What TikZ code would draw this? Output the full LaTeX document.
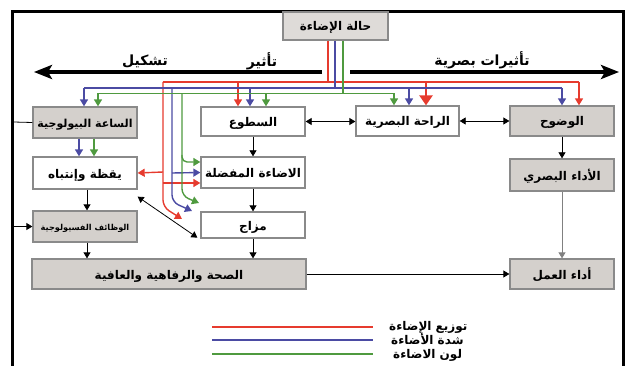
\documentclass[tikz,border=0pt]{standalone}
\usepackage{fontspec}
\TeXXeTstate=1
\newfontfamily\arfont[Script=Arabic]{DejaVu Sans}
\usetikzlibrary{arrows.meta,calc}
\definecolor{lred}{HTML}{E63B2E}
\definecolor{lblue}{HTML}{4B4BA3}
\definecolor{lgreen}{HTML}{4F9A3F}
\definecolor{boxfill}{HTML}{D4D0CC}
\definecolor{topfill}{HTML}{DEDBD8}
\definecolor{boxline}{HTML}{8A8A8A}
\begin{document}
\begin{tikzpicture}[x=1pt,y=-1pt,
  box/.style={draw=boxline, line width=1.3pt, fill=white, inner sep=0pt,
    text height=10pt, text depth=0pt,
    font=\arfont\bfseries\fontsize{12}{13}\selectfont},
  graybox/.style={box, fill=boxfill},
  conn/.style={line width=0.8pt, -{Triangle[width=7pt,length=6pt]}},
  dconn/.style={line width=0.8pt, {Triangle[width=7pt,length=6pt]}-{Triangle[width=7pt,length=6pt]}},
  wire/.style={line width=1.4pt},
  cwire/.style={line width=1.4pt, -{Triangle[width=8pt,length=7pt]}},
  bigarrow/.style={line width=3.5pt, -{Stealth[length=18pt,width=14pt,inset=4pt]}},
  lbl/.style={font=\arfont\bfseries\fontsize{14}{16}\selectfont, inner sep=0pt},
  leg/.style={font=\arfont\bfseries\fontsize{12}{12}\selectfont, inner sep=0pt}
]
\useasboundingbox (0,0) rectangle (636,366);
% frame
\draw[line width=2.5pt] (12.5,366) -- (12.5,11.5) -- (623.5,11.5) -- (623.5,366);

% nodes
\node[box, fill=topfill, minimum width=105pt, minimum height=28pt] (light) at (335.5,26) {\beginR حالة الإضاءة\endR};
\node[graybox, minimum width=104pt, minimum height=31pt, font=\arfont\bfseries\fontsize{11}{12}\selectfont] (clock) at (85,122.5) {\beginR الساعة البيولوجية\endR};
\node[box, minimum width=104pt, minimum height=29pt] (bright) at (253,121.5) {\beginR السطوع\endR};
\node[box, minimum width=103pt, minimum height=30pt] (comfort) at (407.5,121) {\beginR الراحة البصرية\endR};
\node[graybox, minimum width=104pt, minimum height=30pt] (clarity) at (562,121) {\beginR الوضوح\endR};
\node[box, minimum width=104pt, minimum height=32pt] (alert) at (85,173) {\beginR يقظة وإنتباه\endR};
\node[box, minimum width=104pt, minimum height=31pt] (pref) at (253,172.5) {\beginR الاضاءة المفضلة\endR};
\node[graybox, minimum width=104pt, minimum height=32pt] (visperf) at (562,175) {\beginR الأداء البصري\endR};
\node[graybox, minimum width=104pt, minimum height=31pt, text height=7pt, font=\arfont\bfseries\fontsize{8.2}{9}\selectfont] (physio) at (85,226.5) {\beginR الوظائف الفسيولوجية\endR};
\node[box, minimum width=104pt, minimum height=26pt] (mood) at (253,225) {\beginR مزاج\endR};
\node[graybox, minimum width=274pt, minimum height=30pt] (health) at (169,274) {\beginR الصحة والرفاهية والعافية\endR};
\node[graybox, minimum width=104pt, minimum height=30pt] (work) at (562,274) {\beginR أداء العمل\endR};

% big arrows and labels
\coordinate (bl0) at (322,72);
\coordinate (bl1) at (34,72);
\coordinate (br0) at (350,72);
\coordinate (br1) at (619,72);
\draw[bigarrow] (bl0) -- (bl1);
\draw[bigarrow] (br0) -- (br1);
\node[lbl] (t1) at (145,61) {\beginR تشكيل\endR};
\node[lbl] (t2) at (262,61) {\beginR تأثير\endR};
\node[lbl] (t3) at (482,60) {\beginR تأثيرات بصرية\endR};

% coloured wiring: red
\draw[wire,lred] ([xshift=-7.5pt]light.south) -- (328,82);
\draw[wire,lred] (163,82) -- (579,82);
\draw[cwire,lred] (238,82) -- ([xshift=-15pt]bright.north);
\draw[lred, line width=2.8pt, -{Triangle[width=13pt,length=10pt]}] (426,82) -- ([xshift=18.5pt]comfort.north);
\draw[cwire,lred] (579,82) -- ([xshift=17pt]clarity.north);
\draw[cwire,lred,rounded corners=7pt] (163,82) -- (163,207) -- (182,219);
\draw[cwire,lred] (163,172) -- (alert.east);
\draw[cwire,lred] (163,183) -- ([yshift=-10.5pt]pref.west);
% blue
\draw[wire,lblue] ([xshift=-0.5pt]light.south) -- (335,88);
\draw[wire,lblue] (84,88) -- (562,88);
\draw[cwire,lblue] (84,88) -- ([xshift=-1pt]clock.north);
\draw[cwire,lblue] (250,88) -- ([xshift=-3pt]bright.north);
\draw[cwire,lblue] (409,88) -- ([xshift=1.5pt]comfort.north);
\draw[cwire,lblue] (562,88) -- (clarity.north);
\draw[cwire,lblue,rounded corners=7pt] (172,88) -- (172,202) -- (192,211);
\draw[cwire,lblue] (172,173) -- (pref.west);
\draw[cwire,lblue] ([xshift=-6pt]clock.south) -- ([xshift=-6pt]alert.north);
% green
\draw[wire,lgreen] ([xshift=7.5pt]light.south) -- (343,93.5);
\draw[wire,lgreen] (98,93.5) -- (394,93.5);
\draw[cwire,lgreen] (98,93.5) -- ([xshift=13pt]clock.north);
\draw[cwire,lgreen] (266,93.5) -- ([xshift=13pt]bright.north);
\draw[cwire,lgreen] (394,93.5) -- ([xshift=-13.5pt]comfort.north);
\draw[cwire,lgreen,rounded corners=7pt] (182,93.5) -- (182,196) -- (199,203);
\draw[cwire,lgreen,rounded corners=5pt] (182,155) -- (182,162) -- ([yshift=10.5pt]pref.west);
\draw[cwire,lgreen] ([xshift=9pt]clock.south) -- ([xshift=9pt]alert.north);

% black connectors
\coordinate (f1) at (13.5,122);
\coordinate (f2) at (13.5,226.5);
\draw[line width=0.8pt] (f1) -- (clock.west);
\draw[conn] (f2) -- (physio.west);
\draw[conn] ([xshift=2pt]alert.south) -- ([xshift=2pt]physio.north);
\draw[conn] ([xshift=2pt]physio.south) -- ([xshift=2pt]physio.south |- health.north);
\draw[conn] (bright.south) -- (pref.north);
\draw[conn] (pref.south) -- (mood.north);
\draw[conn] (mood.south) -- (mood.south |- health.north);
\draw[dconn] (bright.east) -- (bright.east -| comfort.west);
\draw[dconn] (comfort.east) -- (comfort.east -| clarity.west);
\draw[conn] (clarity.south) -- (visperf.north);
\draw[line width=0.8pt, draw=gray, -{Triangle[width=7pt,length=6pt]}] (visperf.south) -- (work.north);
\draw[conn] (health.east) -- (work.west);
\draw[dconn] ([yshift=-7pt]alert.south east) -- ([xshift=-3pt,yshift=1pt]mood.south west);

% legend
\coordinate (lr0) at (212,327); \coordinate (lr1) at (373,327);
\coordinate (lb0) at (212,340); \coordinate (lb1) at (373,340);
\coordinate (lg0) at (212,354); \coordinate (lg1) at (373,354);
\draw[line width=1.3pt, lred] (lr0) -- (lr1);
\draw[line width=1.3pt, lblue] (lb0) -- (lb1);
\draw[line width=1.3pt, lgreen] (lg0) -- (lg1);
\node[leg, anchor=west] (k1) at (389,327) {\beginR توزيع الإضاءة\endR};
\node[leg, anchor=west] (k2) at (391,339) {\beginR شدة الأضاءة\endR};
\node[leg, anchor=west] (k3) at (393,355) {\beginR لون الاضاءة\endR};
\end{tikzpicture}
\end{document}
